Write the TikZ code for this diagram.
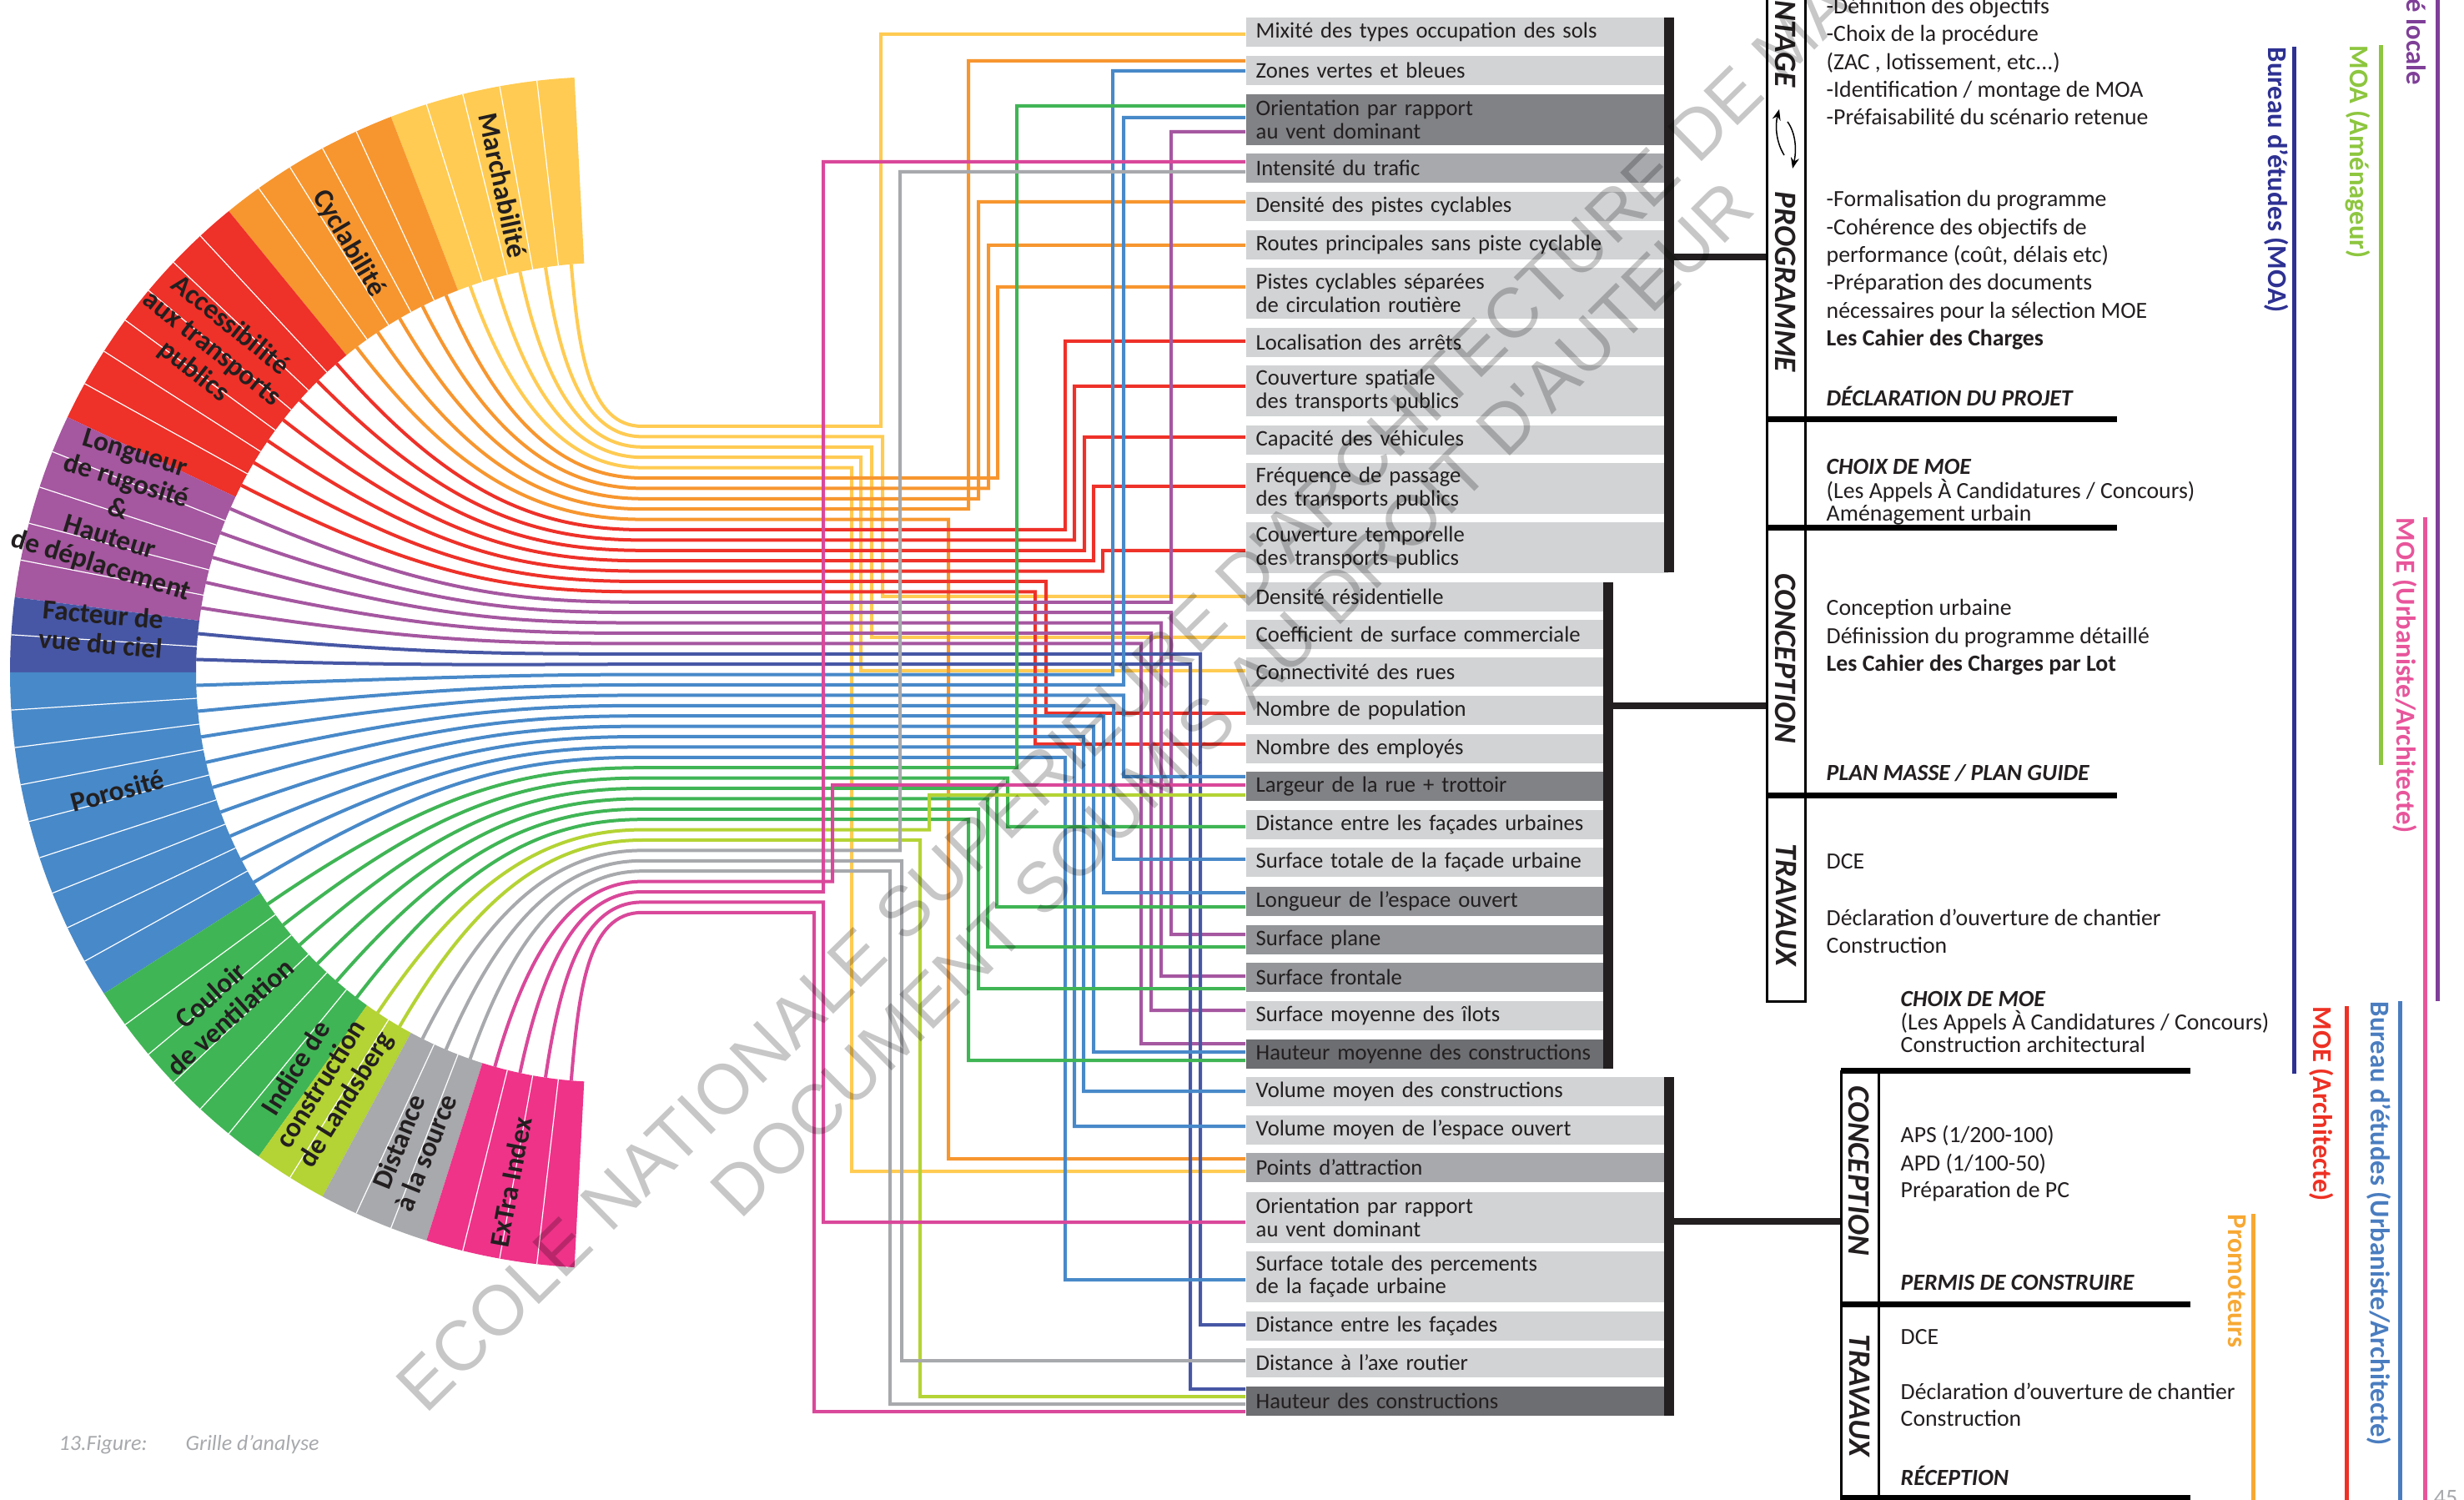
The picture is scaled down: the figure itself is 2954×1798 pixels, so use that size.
\documentclass[tikz,border=0pt]{standalone}
\usepackage{fontspec}
\setmainfont{Carlito}
\newfontfamily\wmfont{Liberation Sans}
\usetikzlibrary{arrows.meta}
\pgfdeclarelayer{bg}
\pgfsetlayers{bg,main}
\definecolor{fYel}{HTML}{FFCB52}
\definecolor{fOra}{HTML}{F7962F}
\definecolor{fRed}{HTML}{EE3129}
\definecolor{fPur}{HTML}{A557A0}
\definecolor{fDBl}{HTML}{4757A5}
\definecolor{fBlu}{HTML}{4889C9}
\definecolor{fGrn}{HTML}{40B555}
\definecolor{fYG}{HTML}{B4D334}
\definecolor{fGry}{HTML}{A7A9AC}
\definecolor{fPnk}{HTML}{EE3389}
\definecolor{lPnk}{HTML}{D9489A}
\definecolor{tdark}{HTML}{231F20}
\definecolor{bxL}{HTML}{D1D3D4}
\definecolor{bxM}{HTML}{A7A9AC}
\definecolor{bxD}{HTML}{808285}
\definecolor{bxE}{HTML}{939598}
\definecolor{bxX}{HTML}{6D6E71}
\definecolor{rPur}{HTML}{7F3F98}
\definecolor{rGrn}{HTML}{8DC63F}
\definecolor{rNav}{HTML}{2E3192}
\definecolor{rPnk}{HTML}{E8559B}
\definecolor{rRed}{HTML}{EE3124}
\definecolor{rBlu}{HTML}{4A7DC0}
\definecolor{rOra}{HTML}{F7A833}
\definecolor{capg}{HTML}{A7A9AC}
\tikzset{
 conn/.style={line width=0.4mm, line join=miter},
 bx/.style={anchor=north west, inner xsep=1.2mm, inner ysep=0pt, align=left, text=tdark, font=\fontsize{7.6}{7.8}\selectfont},
 bxw/.style={bx, text width=48.2mm},
 bxn/.style={bx, text width=41.2mm},
 h1/.style={minimum height=3.5mm},
 h2/.style={minimum height=6.1mm},
 gbar/.style={fill=tdark, inner sep=0pt, anchor=north west, minimum width=1.2mm},
 glink/.style={line width=0.8mm, draw=tdark},
 coline/.style={line width=0.3mm, draw=black},
 sepline/.style={line width=0.7mm, draw=black},
 vlab/.style={rotate=-90, font=\fontsize{10.6}{10.6}\selectfont\bfseries\itshape, text=tdark, inner sep=0pt},
 ptxt/.style={anchor=base west, inner sep=0pt, text=tdark, font=\fontsize{7.9}{7.9}\selectfont},
 phead/.style={ptxt, font=\fontsize{7.9}{7.9}\selectfont\bfseries\itshape},
 pbold/.style={ptxt, font=\fontsize{7.9}{7.9}\selectfont\bfseries},
 rlab/.style={rotate=-90, inner sep=0pt, font=\fontsize{9.3}{9.3}\selectfont\bfseries},
 rline/.style={line width=0.5mm},
 flab/.style={align=center, inner sep=0pt, text=tdark, font=\fontsize{9.5}{10}\selectfont\bfseries},
 wmark/.style={font=\wmfont\fontsize{24}{24}\selectfont, text=black, opacity=0.22, inner sep=0pt, anchor=west},
 capt/.style={anchor=base west, text=capg, font=\fontsize{7.4}{7.4}\selectfont\itshape, inner sep=0pt},
}
\begin{document}
\begin{tikzpicture}[x=0.1mm,y=-0.1mm]
\useasboundingbox (0,0) rectangle (2954,1798);
\clip (0,0) rectangle (2954,1798);

% ---------- boxes ----------
\node[bxw,h1,fill=bxL] (m1) at (1493,20) {Mixité des types occupation des sols};
\node[bxw,h1,fill=bxL] (m2) at (1493,66) {Zones vertes et bleues};
\node[bxw,h2,fill=bxD] (m3) at (1493,112) {Orientation par rapport\\au vent dominant};
\node[bxw,h1,fill=bxM] (m4) at (1493,183) {Intensité du trafic};
\node[bxw,h1,fill=bxL] (m5) at (1493,229) {Densité des pistes cyclables};
\node[bxw,h1,fill=bxL] (m6) at (1493,275) {Routes principales sans piste cyclable};
\node[bxw,h2,fill=bxL] (m7) at (1493,320) {Pistes cyclables séparées\\de circulation routière};
\node[bxw,h1,fill=bxL] (m8) at (1493,392) {Localisation des arrêts};
\node[bxw,h2,fill=bxL] (m9) at (1493,437) {Couverture spatiale\\des transports publics};
\node[bxw,h1,fill=bxL] (m10) at (1493,509) {Capacité des véhicules};
\node[bxw,h2,fill=bxL] (m11) at (1493,554) {Fréquence de passage\\des transports publics};
\node[bxw,h2,fill=bxL] (m12) at (1493,625) {Couverture temporelle\\des transports publics};

\node[bxn,h1,fill=bxL] (c1) at (1493,697) {Densité résidentielle};
\node[bxn,h1,fill=bxL] (c2) at (1493,742) {Coefficient de surface commerciale};
\node[bxn,h1,fill=bxL] (c3) at (1493,787) {Connectivité des rues};
\node[bxn,h1,fill=bxL] (c4) at (1493,833) {Nombre de population};
\node[bxn,h1,fill=bxL] (c5) at (1493,879) {Nombre des employés};
\node[bxn,h1,fill=bxD] (c6) at (1493,924) {Largeur de la rue + trottoir};
\node[bxn,h1,fill=bxL] (c7) at (1493,970) {Distance entre les façades urbaines};
\node[bxn,h1,fill=bxL] (c8) at (1493,1015) {Surface totale de la façade urbaine};
\node[bxn,h1,fill=bxE] (c9) at (1493,1062) {Longueur de l’espace ouvert};
\node[bxn,h1,fill=bxE] (c10) at (1493,1108) {Surface plane};
\node[bxn,h1,fill=bxE] (c11) at (1493,1153) {Surface frontale};
\node[bxn,h1,fill=bxL] (c12) at (1493,1199) {Surface moyenne des îlots};
\node[bxn,h1,fill=bxX] (c13) at (1493,1245) {Hauteur moyenne des constructions};

\node[bxw,h1,fill=bxL] (r1) at (1493,1290) {Volume moyen des constructions};
\node[bxw,h1,fill=bxL] (r2) at (1493,1336) {Volume moyen de l’espace ouvert};
\node[bxw,h1,fill=bxM] (r3) at (1493,1381) {Points d’attraction};
\node[bxw,h2,fill=bxL] (r4) at (1493,1428) {Orientation par rapport\\au vent dominant};
\node[bxw,h2,fill=bxL] (r5) at (1493,1499) {Surface totale des percements\\de la façade urbaine};
\node[bxw,h1,fill=bxL] (r6) at (1493,1571) {Distance entre les façades};
\node[bxw,h1,fill=bxL] (r7) at (1493,1615) {Distance à l’axe routier};
\node[bxw,h1,fill=bxX] (r8) at (1493,1661) {Hauteur des constructions};

% ---------- bars and links ----------
\node[gbar, minimum height=66.5mm] (bar1) at (1994,20) {};
\node[gbar, minimum height=58.3mm] (bar2) at (1921,697) {};
\node[gbar, minimum height=40.6mm] (bar3) at (1994,1290) {};
\coordinate (j1) at (2118,308);
\coordinate (j2) at (2118,846);
\coordinate (j3) at (2207,1464);
\draw[glink] (bar1.east |- j1) -- (j1);
\draw[glink] (bar2.east |- j2) -- (j2);
\draw[glink] (bar3.east |- j3) -- (j3);

% ---------- right phase columns ----------
\draw[coline] (2118,-10) -- (2118,1200) -- (2164,1200) -- (2164,-10);
\draw[sepline] (2118,503) -- (2538,503);
\draw[sepline] (2118,633) -- (2538,633);
\draw[sepline] (2118,954) -- (2538,954);
\draw[coline] (2207,1283) -- (2207,1810);
\draw[coline] (2252,1283) -- (2252,1810);
\draw[sepline] (2207,1283) -- (2626,1283);
\draw[sepline] (2207,1563) -- (2626,1563);
\draw[sepline] (2207,1795) -- (2626,1795);

\node[vlab, anchor=east] (lmont) at (2141,105) {MONTAGE};
\node[vlab] (lprog) at (2141,338) {PROGRAMME};
\node[vlab] (lconc) at (2141,789) {CONCEPTION};
\node[vlab] (ltrav) at (2141,1085) {TRAVAUX};
\node[vlab] (lconcb) at (2229,1403) {CONCEPTION};
\node[vlab] (ltravb) at (2229,1673) {TRAVAUX};
\draw[-{Stealth[length=1.3mm,width=1mm]}, line width=0.15mm] (2139,186) .. controls (2129,170) and (2128,150) .. (2133,131);
\draw[-{Stealth[length=1.3mm,width=1mm]}, line width=0.15mm] (2143,146) .. controls (2153,160) and (2154,180) .. (2149,202);

% ---------- right panel texts ----------
\node[ptxt] (t1) at (2189,17) {-Définition des objectifs};
\node[ptxt] (t2) at (2189,50) {-Choix de la procédure};
\node[ptxt] (t3) at (2189,84) {(ZAC , lotissement, etc...)};
\node[ptxt] (t4) at (2189,117) {-Identification / montage de MOA};
\node[ptxt] (t5) at (2189,150) {-Préfaisabilité du scénario retenue};
\node[ptxt] (t6) at (2189,248) {-Formalisation du programme};
\node[ptxt] (t7) at (2189,282) {-Cohérence des objectifs de};
\node[ptxt] (t8) at (2189,315) {performance (coût, délais etc)};
\node[ptxt] (t9) at (2189,348) {-Préparation des documents};
\node[ptxt] (t10) at (2189,382) {nécessaires pour la sélection MOE};
\node[pbold] (t11) at (2189,415) {Les Cahier des Charges};
\node[phead] (t12) at (2189,487) {DÉCLARATION DU PROJET};
\node[phead] (t13) at (2189,569) {CHOIX DE MOE};
\node[ptxt] (t14) at (2189,598) {(Les Appels À Candidatures / Concours)};
\node[ptxt] (t15) at (2189,625) {Aménagement urbain};
\node[ptxt] (t16) at (2189,738) {Conception urbaine};
\node[ptxt] (t17) at (2189,772) {Définission du programme détaillé};
\node[pbold] (t18) at (2189,805) {Les Cahier des Charges par Lot};
\node[phead] (t19) at (2189,936) {PLAN MASSE / PLAN GUIDE};
\node[ptxt] (t20) at (2189,1042) {DCE};
\node[ptxt] (t21) at (2189,1109) {Déclaration d’ouverture de chantier};
\node[ptxt] (t22) at (2189,1142) {Construction};
\node[phead] (t23) at (2278,1206) {CHOIX DE MOE};
\node[ptxt] (t24) at (2278,1234) {(Les Appels À Candidatures / Concours)};
\node[ptxt] (t25) at (2278,1261) {Construction architectural};
\node[ptxt] (t26) at (2278,1369) {APS (1/200-100)};
\node[ptxt] (t27) at (2278,1403) {APD (1/100-50)};
\node[ptxt] (t28) at (2278,1435) {Préparation de PC};
\node[phead] (t29) at (2278,1546) {PERMIS DE CONSTRUIRE};
\node[ptxt] (t30) at (2278,1611) {DCE};
\node[ptxt] (t31) at (2278,1677) {Déclaration d’ouverture de chantier};
\node[ptxt] (t32) at (2278,1709) {Construction};
\node[phead] (t33) at (2278,1780) {RÉCEPTION};

% ---------- actors ----------
\draw[rline, rPur] (2922,-10) -- (2922,1200);
\node[rlab, text=rPur, anchor=east] (acl) at (2897,103) {Collectivité locale};
\draw[rline, rGrn] (2854,54) -- (2854,917);
\node[rlab, text=rGrn, anchor=west] (amoa) at (2827,54) {MOA (Aménageur)};
\draw[rline, rNav] (2750,56) -- (2750,1287);
\node[rlab, text=rNav, anchor=west] (abe1) at (2729,56) {Bureau d’études (MOA)};
\draw[rline, rPnk] (2907,620) -- (2907,1810);
\node[rlab, text=rPnk, anchor=west] (amoe1) at (2883,620) {MOE (Urbaniste/Architecte)};
\draw[rline, rRed] (2813,1206) -- (2813,1810);
\node[rlab, text=rRed, anchor=west] (amoe2) at (2783,1206) {MOE (Architecte)};
\draw[rline, rBlu] (2877,1200) -- (2877,1810);
\node[rlab, text=rBlu, anchor=west] (abe2) at (2852,1200) {Bureau d’études (Urbaniste/Architecte)};
\draw[rline, rOra] (2701,1455) -- (2701,1810);
\node[rlab, text=rOra, anchor=west] (apro) at (2682,1455) {Promoteurs};

% ---------- fan labels ----------
\node[flab, rotate=-77.9] (fl1) at (603,222) {Marchabilité};
\node[flab, rotate=-59.5] (fl2) at (418,292) {Cyclabilité};
\node[flab, rotate=-38.5] (fl3) at (254,418) {Accessibilité\\aux transports\\publics};
\node[flab, rotate=-17] (fl4) at (141,612) {Longueur\\de rugosité\\\&\\Hauteur\\de déplacement};
\node[flab, rotate=-5] (fl5) at (122,754) {Facteur de\\vue du ciel};
\node[flab, rotate=15] (fl6) at (141,948) {Porosité};
\node[flab, rotate=42] (fl7) at (264,1206) {Couloir\\de ventilation};
\node[flab, rotate=58] (fl8) at (386,1300) {Indice de\\construction\\de Landsberg};
\node[flab, rotate=68] (fl9) at (494,1375) {Distance\\à la source};
\node[flab, rotate=79.5] (fl10) at (612,1417) {ExTra Index};

% ---------- background layer: fan and connectors ----------
\begin{pgfonlayer}{bg}
\fill[white] (0,0) rectangle (2954,1798);
\foreach \s/\n/\col in {0/5/fYel,5/5/fOra,10/7/fRed,17/5/fPur,22/2/fDBl,24/9/fBlu,33/6/fGrn,39/2/fYG,41/3/fGry,44/4/fPnk}{
  \pgfmathsetmacro\angA{93+\s*3.625}
  \pgfmathsetmacro\angB{93+(\s+\n)*3.625}
  \fill[\col] plot[domain=\angA:\angB, samples=30] ({726+714*cos(\x)},{806-714*sin(\x)}) -- plot[domain=\angB:\angA, samples=30] ({726+491*cos(\x)},{806-491*sin(\x)}) -- cycle;
  \pgfmathtruncatemacro\nm{\n-1}
  \foreach \j in {1,...,\nm}{
    \pgfmathsetmacro\angC{93+(\s+\j)*3.625}
    \draw[white, line width=0.12mm] ({726+491*cos(\angC)},{806-491*sin(\angC)}) -- ({726+714*cos(\angC)},{806-714*sin(\angC)});
  }
}
\foreach \i/\col/\xv/\yb/\bn in {
 1/fYel/1056/41/m1, 2/fYel/1058/715/c1, 3/fYel/1045/764/c2, 4/fYel/1032/804/c3, 5/fYel/1021/1404/r3,
 6/fOra/1196/344/m7, 7/fOra/1185/294/m6, 8/fOra/1173/242/m5, 9/fOra/1161/73/m2, 10/fOra/1137/1389/r3,
 11/fRed/1277/409/m8, 12/fRed/1288/463/m9, 13/fRed/1300/524/m10, 14/fRed/1311/583/m11, 15/fRed/1322/660/m12, 16/fRed/1254/855/c4, 17/fRed/1241/892/c5,
 18/fPur/1404/158/m3, 19/fPur/1404/1120/c10, 20/fPur/1392/1170/c11, 21/fPur/1380/1211/c12, 22/fPur/1368/1251/c13,
 23/fDBl/1439/1588/r6, 24/fDBl/1427/1665/r8,
 25/fBlu/1334/85/m2, 26/fBlu/1347/141/m3, 27/fBlu/1347/931/c6, 28/fBlu/1335/1030/c8, 29/fBlu/1323/1070/c9, 30/fBlu/1311/1261/c13, 31/fBlu/1299/1308/r1, 32/fBlu/1288/1350/r2, 33/fBlu/1277/1534/r5,
 34/fGrn/1219/127/m3, 35/fGrn/1208/991/c7, 36/fGrn/1195/1087/c9, 37/fGrn/1184/1135/c10, 38/fGrn/1173/1185/c11, 39/fGrn/1161/1271/c13,
 40/fYG/1114/953/c6, 41/fYG/1103/1674/r8,
 42/fGry/1079/206/m4, 43/fGry/1081/1631/r7, 44/fGry/1067/1683/r8,
 45/lPnk/998/941/c6, 46/lPnk/987/194/m4, 47/lPnk/987/1465/r4, 48/lPnk/976/1692/r8}{
  \pgfmathsetmacro\tA{93+(\i-0.5)*3.625}
  \pgfmathsetmacro\sx{726+491*cos(\tA)}
  \pgfmathsetmacro\sy{806-491*sin(\tA)}
  \pgfmathsetmacro\yh{511+(\i-1)*12.4}
  \pgfmathsetmacro\dd{veclen(770-\sx,\yh-\sy)}
  \pgfmathsetmacro\qx{\sx-0.5*\dd*cos(\tA)}
  \pgfmathsetmacro\qy{\sy+0.5*\dd*sin(\tA)}
  \pgfmathsetmacro\px{770-0.3*\dd}
  \coordinate (s\i) at (\sx,\sy);
  \coordinate (e\i) at (1493,\yb);
  \draw[conn, draw=\col] (s\i) .. controls (\qx,\qy) and (\px,\yh) .. (770,\yh) -- (\xv,\yh) -- (\xv,\yb) -- (\bn.west |- e\i);
}
\end{pgfonlayer}

% ---------- caption, page number, watermark ----------
\node[capt] (cap1) at (70,1738) {13.Figure:};
\node[capt] (cap2) at (222,1738) {Grille d’analyse};
\node[anchor=north west, text=capg, font=\fontsize{8}{8}\selectfont, inner sep=0pt] (pgn) at (2917,1786) {45};
\node[wmark, rotate=44.5] (wm1) at (490,1676) {ECOLE NATIONALE SUPERIEURE D'ARCHITECTURE DE MA};
\node[wmark, rotate=44.8] (wm2) at (867,1443) {DOCUMENT SOUMIS AU DROIT D'AUTEUR};
\end{tikzpicture}
\end{document}
